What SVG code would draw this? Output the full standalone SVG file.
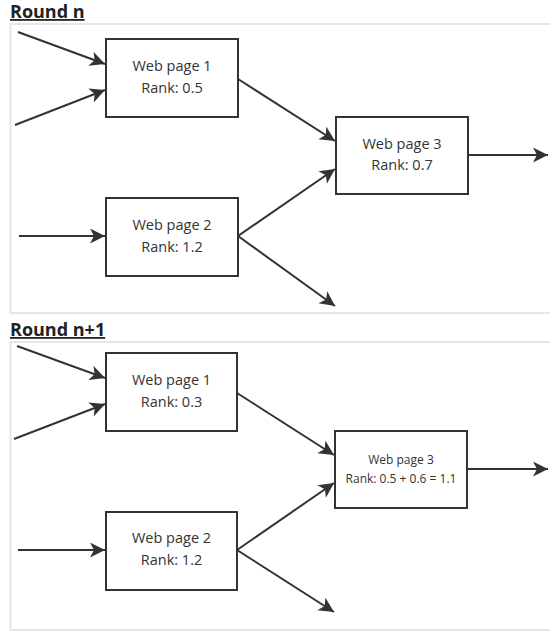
<svg xmlns="http://www.w3.org/2000/svg" width="550" height="634" viewBox="0 0 550 634">
<style>
.panel{fill:#fff;stroke:#e6e6e6;stroke-width:2}
.title{font-family:"Open Sans","Liberation Sans",sans-serif;font-weight:bold;font-size:18px;fill:#222;text-decoration:underline}
.box{fill:#fff;stroke:#333;stroke-width:2}
.t{font-family:"Open Sans","Liberation Sans",sans-serif;font-size:14.5px;fill:#333;text-anchor:middle}
.ts{font-family:"Open Sans","Liberation Sans",sans-serif;font-size:12px;fill:#333;text-anchor:middle}
.c{stroke:#333;stroke-width:2;fill:none;marker-end:url(#ah)}
</style>
<defs>
<marker id="ah" markerUnits="userSpaceOnUse" markerWidth="18" markerHeight="18" refX="15" refY="7.5" orient="auto">
<path d="M0,0 L15,7.5 L0,15 L4,7.5 Z" fill="#333"/>
</marker>
</defs>
<rect width="550" height="634" fill="#fff"/>
<text class="title" x="10" y="18">Round n</text>
<rect class="panel" x="10.5" y="24" width="560" height="289"/>
<text class="title" x="10" y="336">Round n+1</text>
<rect class="panel" x="10.5" y="342" width="560" height="288"/>
<g id="connectors">
<line class="c" x1="18" y1="32" x2="105" y2="64"/>
<line class="c" x1="15" y1="125" x2="105" y2="90"/>
<line class="c" x1="238" y1="79" x2="335" y2="141"/>
<line class="c" x1="19" y1="236" x2="105" y2="236"/>
<line class="c" x1="238" y1="236" x2="335" y2="169"/>
<line class="c" x1="238" y1="236" x2="335" y2="306"/>
<line class="c" x1="468" y1="155" x2="548" y2="155"/>
<line class="c" x1="17" y1="346" x2="105" y2="378"/>
<line class="c" x1="14" y1="439" x2="105" y2="404"/>
<line class="c" x1="237" y1="393" x2="334" y2="455"/>
<line class="c" x1="18" y1="550" x2="105" y2="550"/>
<line class="c" x1="237" y1="550" x2="334" y2="483"/>
<line class="c" x1="237" y1="550" x2="334" y2="612"/>
<line class="c" x1="467" y1="469" x2="548" y2="469"/>
</g>
<g id="n1_wp1">
<rect class="box" x="106" y="39" width="132" height="78"/>
<text class="t" x="172" y="71">Web page 1</text>
<text class="t" x="172" y="93">Rank: 0.5</text>
</g>
<g id="n1_wp2">
<rect class="box" x="106" y="198" width="132" height="78"/>
<text class="t" x="172" y="230">Web page 2</text>
<text class="t" x="172" y="252">Rank: 1.2</text>
</g>
<g id="n1_wp3">
<rect class="box" x="336" y="117" width="132" height="77"/>
<text class="t" x="402" y="149">Web page 3</text>
<text class="t" x="402" y="170">Rank: 0.7</text>
</g>
<g id="n2_wp1">
<rect class="box" x="106" y="353" width="131" height="78"/>
<text class="t" x="171.5" y="385">Web page 1</text>
<text class="t" x="171.5" y="407">Rank: 0.3</text>
</g>
<g id="n2_wp2">
<rect class="box" x="106" y="512" width="131" height="78"/>
<text class="t" x="171.5" y="543">Web page 2</text>
<text class="t" x="171.5" y="565">Rank: 1.2</text>
</g>
<g id="n2_wp3">
<rect class="box" x="335" y="431" width="132" height="77"/>
<text class="ts" x="401" y="464">Web page 3</text>
<text class="ts" x="401" y="483">Rank: 0.5 + 0.6 = 1.1</text>
</g>
</svg>
